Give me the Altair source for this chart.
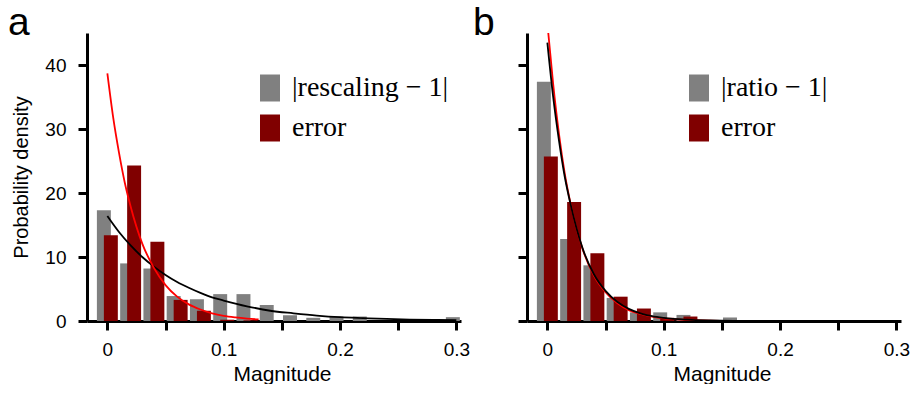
import altair as alt
import pandas as pd

# ---------------- data ----------------
bin_centers = [0.00, 0.02, 0.04, 0.06, 0.08, 0.10, 0.12, 0.14,
               0.16, 0.18, 0.20, 0.22, 0.24, 0.26, 0.28, 0.30]

a_gray = [17.3, 9.0, 8.2, 3.9, 3.4, 4.2, 4.2, 2.5, 0.9, 0.5, 0.7, 0.7, 0, 0, 0, 0.6]
a_red = [13.4, 24.3, 12.4, 3.3, 1.6, 0.2, 0.1, 0, 0, 0, 0, 0, 0, 0, 0, 0]
b_gray = [37.4, 12.8, 8.7, 3.6, 1.35, 1.35, 0.95, 0, 0.55, 0, 0, 0, 0, 0, 0, 0]
b_red = [25.7, 18.6, 10.6, 3.8, 1.95, 0.5, 0.7, 0, 0, 0, 0, 0, 0, 0, 0, 0]

a_black_x = [0, 0.01, 0.02, 0.03, 0.04, 0.05, 0.06, 0.07, 0.08, 0.09, 0.10,
             0.12, 0.14, 0.16, 0.18, 0.20, 0.22, 0.24, 0.26, 0.28, 0.30]
a_black_y = [16.4, 13.9, 11.8, 10.0, 8.5, 7.2, 6.1, 5.2, 4.4, 3.7, 3.2,
             2.3, 1.6, 1.2, 0.85, 0.6, 0.45, 0.32, 0.23, 0.17, 0.12]
a_redfit_x = [0, 0.005, 0.01, 0.015, 0.02, 0.03, 0.04, 0.05, 0.06, 0.07,
              0.08, 0.09, 0.10, 0.11, 0.12, 0.13]
a_redfit_y = [38.7, 31.8, 26.3, 21.6, 17.9, 12.1, 8.3, 5.6, 3.8, 2.6,
              1.8, 1.2, 0.8, 0.55, 0.37, 0.25]

b_black_x = [0, 0.005, 0.01, 0.015, 0.02, 0.03, 0.04, 0.05, 0.06, 0.07,
             0.08, 0.09, 0.10, 0.12, 0.14, 0.16, 0.20, 0.25]
b_black_y = [43.5, 35.0, 28.2, 22.5, 18.2, 11.5, 7.3, 4.7, 3.0, 1.9,
             1.2, 0.75, 0.48, 0.2, 0.08, 0.03, 0.01, 0.0]
b_redfit_x = [0, 0.005, 0.01, 0.015, 0.02, 0.03, 0.04, 0.05, 0.06, 0.07,
              0.08, 0.09, 0.10, 0.12, 0.14, 0.16, 0.20]
b_redfit_y = [46.5, 37.0, 29.2, 23.0, 18.3, 11.4, 7.1, 4.5, 2.8, 1.7,
              1.1, 0.7, 0.42, 0.17, 0.06, 0.02, 0.0]

x_ticks = [0, 0.05, 0.10, 0.15, 0.20, 0.25, 0.30]
y_ticks = [0, 10, 20, 30, 40]

# ---------------- styling ----------------
GRAY = "#808080"
DARKRED = "#800000"
BAR_W = 0.012
SHIFT = 0.003
SANS = "Liberation Sans"
SERIF = "Liberation Serif"
XDOM = [-0.0175, 0.304]
YDOM = [0, 45]
W, H = 374, 288


def bars_frame(gray, red, gray_label, red_label):
    rows = []
    for c, v in zip(bin_centers, gray):
        if v > 0:
            rows.append({"series": gray_label, "x0": c - SHIFT - BAR_W / 2,
                         "x1": c - SHIFT + BAR_W / 2, "v": v})
    for c, v in zip(bin_centers, red):
        if v > 0:
            rows.append({"series": red_label, "x0": c + SHIFT - BAR_W / 2,
                         "x1": c + SHIFT + BAR_W / 2, "v": v})
    return pd.DataFrame(rows)


def panel(gray, red, bx, by, rx, ry, gray_label, letter, show_y, letter_dx,
          legend_x, red_on_top):
    red_label = "\u00a0error"
    xscale = alt.Scale(domain=XDOM, nice=False, zero=False)
    yscale = alt.Scale(domain=YDOM, nice=False)
    xaxis = alt.Axis(values=x_ticks, title="Magnitude", titleX=195,
                     labelExpr="round(datum.value*100) % 10 == 0 ? (datum.value == 0 ? '0' : format(datum.value, '.1f')) : ''")
    if show_y:
        yaxis = alt.Axis(values=y_ticks, title="Probability density")
    else:
        yaxis = alt.Axis(values=y_ticks, title=None, labels=False)

    bars = alt.Chart(bars_frame(gray, red, gray_label, red_label)).mark_bar(
        strokeWidth=0, opacity=1
    ).encode(
        x=alt.X("x0:Q", scale=xscale, axis=xaxis),
        x2="x1:Q",
        y=alt.Y("v:Q", scale=yscale, axis=yaxis),
        y2=alt.datum(0),
        color=alt.Color(
            "series:N",
            scale=alt.Scale(domain=[gray_label, red_label], range=[GRAY, DARKRED]),
            legend=alt.Legend(
                title=None, orient="none", legendX=legend_x, legendY=41,
                symbolType="M-0.74,-1H0.74V1H-0.74Z", symbolSize=729,
                symbolStrokeWidth=0, symbolOpacity=1,
                labelFont=SERIF, labelFontSize=28, labelColor="black",
                labelOffset=8, rowPadding=12, padding=0,
            ),
        ),
    )
    black = alt.Chart(pd.DataFrame({"x": bx, "y": by})).mark_line(
        color="black", strokeWidth=1.8, interpolate="monotone", clip=True
    ).encode(x=alt.X("x:Q", scale=xscale), y=alt.Y("y:Q", scale=yscale))
    redc = alt.Chart(pd.DataFrame({"x": rx, "y": ry})).mark_line(
        color="#ff0000", strokeWidth=1.8, interpolate="monotone", clip=True
    ).encode(x=alt.X("x:Q", scale=xscale), y=alt.Y("y:Q", scale=yscale))
    tag = alt.Chart(pd.DataFrame({"t": [letter]})).mark_text(
        font=SANS, fontSize=39, align="left", baseline="alphabetic", color="black"
    ).encode(text="t:N", x=alt.value(letter_dx), y=alt.value(2))
    layers = [bars, black, redc, tag] if red_on_top else [bars, redc, black, tag]
    return alt.layer(*layers).properties(width=W, height=H)


left = panel(a_gray, a_red, a_black_x, a_black_y, a_redfit_x, a_redfit_y,
             "|rescaling \u2212 1|", "a", True, -79, 169, True)
right = panel(b_gray, b_red, b_black_x, b_black_y, b_redfit_x, b_redfit_y,
              "|ratio \u2212 1|", "b", False, -54, 158, False)

chart = alt.hconcat(left, right, spacing=3).resolve_scale(
    color="independent"
).properties(
    padding={"left": 8, "top": 4, "right": 0, "bottom": 0}
).configure_view(stroke=None).configure_axis(
    domainColor="black", domainWidth=3, tickColor="black", tickWidth=3,
    tickSize=9, grid=False, labelFont=SANS, labelFontSize=19,
    labelColor="black", titleFont=SANS, titleFontSize=20,
    titleFontWeight="normal", titleColor="black", labelPadding=4,
).configure_axisY(labelPadding=12, titlePadding=13).configure_axisX(
    labelPadding=10, titlePadding=4, titleFontSize=21
)

chart.save("out.html", embed_options={"renderer": "svg", "actions": False})
